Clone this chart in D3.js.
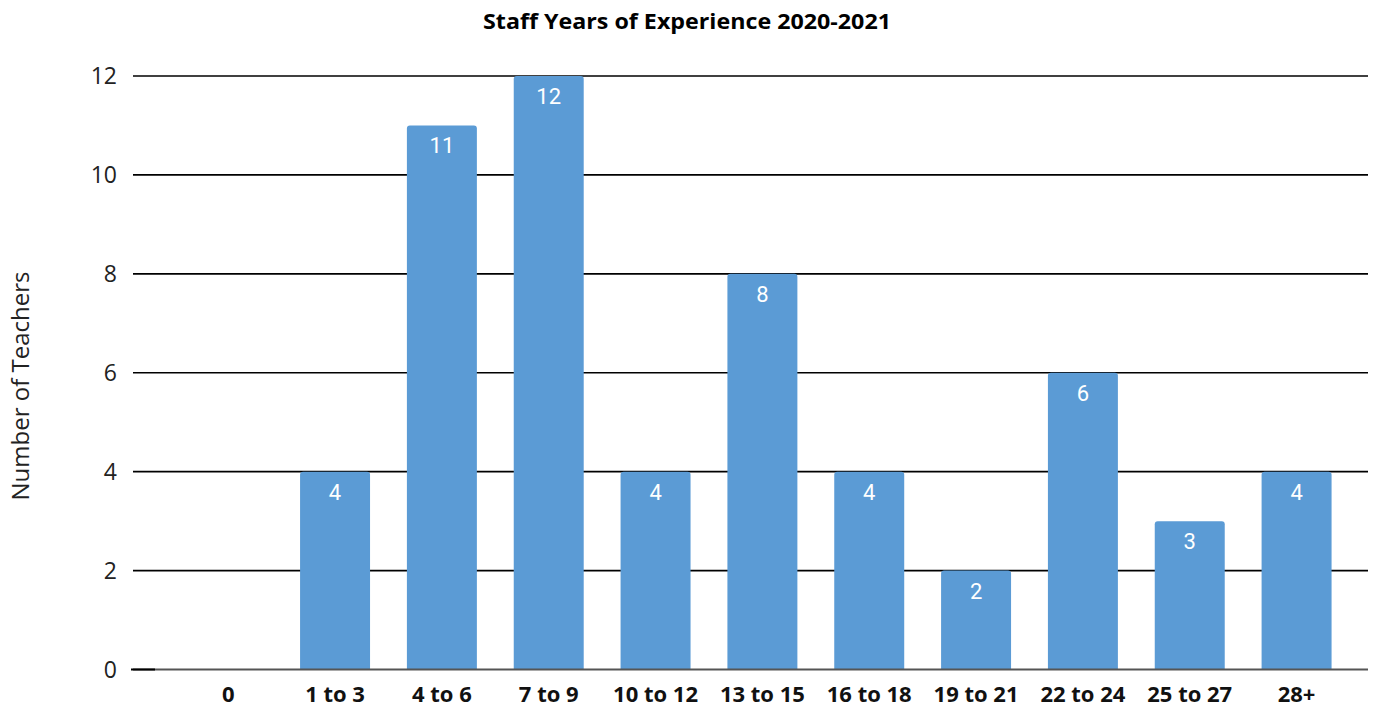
<!DOCTYPE html>
<html>
<head>
<meta charset="utf-8">
<script src="https://cdn.jsdelivr.net/npm/d3@7"></script>
<style>
body { margin: 0; background: #fff; }
svg { display: block; }
</style>
</head>
<body>
<svg id="chart" width="1373" height="709"></svg>
<script>
var categories = ["0", "1 to 3", "4 to 6", "7 to 9", "10 to 12", "13 to 15", "16 to 18", "19 to 21", "22 to 24", "25 to 27", "28+"];
var teachers = [0, 4, 11, 12, 4, 8, 4, 2, 6, 3, 4];
var yTicks = [0, 2, 4, 6, 8, 10, 12];

var svg = d3.select("#chart");
var gridLeft = 133, gridRight = 1368;

var x = d3.scaleBand()
    .domain(categories)
    .range([174.8, 1350])
    .paddingInner(0.345)
    .paddingOuter(0.1725);

var y = d3.scaleLinear()
    .domain([0, 12])
    .range([669.5, 76]);

// title
svg.append("text")
    .attr("x", 687)
    .attr("y", 29)
    .attr("text-anchor", "middle")
    .attr("font-family", "Open Sans")
    .attr("font-weight", "bold")
    .attr("font-size", 21)
    .attr("textLength", 408)
    .attr("lengthAdjust", "spacingAndGlyphs")
    .text("Staff Years of Experience 2020-2021");

// y axis title
svg.append("text")
    .attr("transform", "translate(29,386) rotate(-90)")
    .attr("text-anchor", "middle")
    .attr("font-family", "Open Sans")
    .attr("font-size", 24)
    .attr("fill", "#222")
    .text("Number of Teachers");

// gridlines
svg.append("g")
    .selectAll("line")
    .data(yTicks.filter(function(d) { return d > 0; }))
    .enter().append("line")
    .attr("x1", gridLeft)
    .attr("x2", gridRight)
    .attr("y1", function(d) { return y(d); })
    .attr("y2", function(d) { return y(d); })
    .attr("stroke", "#000")
    .attr("stroke-width", 1.6);

// y tick labels
svg.append("g")
    .selectAll("text")
    .data(yTicks)
    .enter().append("text")
    .attr("x", 117)
    .attr("y", function(d) { return y(d); })
    .attr("dy", "0.36em")
    .attr("text-anchor", "end")
    .attr("font-family", "Open Sans")
    .attr("font-size", 23)
    .attr("fill", "#222")
    .text(function(d) { return d; });

// bars with rounded tops
function barPath(d) {
    var x0 = x(d.cat), w = x.bandwidth(), y0 = y(d.value), y1 = y(0), r = 3;
    if (d.value <= 0) return "";
    return "M" + x0 + "," + y1 +
        "V" + (y0 + r) +
        "Q" + x0 + "," + y0 + " " + (x0 + r) + "," + y0 +
        "H" + (x0 + w - r) +
        "Q" + (x0 + w) + "," + y0 + " " + (x0 + w) + "," + (y0 + r) +
        "V" + y1 + "Z";
}

var data = categories.map(function(c, i) { return {cat: c, value: teachers[i]}; });

svg.append("g")
    .selectAll("path")
    .data(data)
    .enter().append("path")
    .attr("d", barPath)
    .attr("fill", "#5b9bd5");

// baseline
svg.append("line")
    .attr("x1", gridLeft)
    .attr("x2", gridRight)
    .attr("y1", y(0))
    .attr("y2", y(0))
    .attr("stroke", "#555")
    .attr("stroke-width", 2);
svg.append("line")
    .attr("x1", 131)
    .attr("x2", 155)
    .attr("y1", y(0))
    .attr("y2", y(0))
    .attr("stroke", "#000")
    .attr("stroke-width", 2);

// value labels
svg.append("g")
    .selectAll("text")
    .data(data.filter(function(d) { return d.value > 0; }))
    .enter().append("text")
    .attr("x", function(d) { return x(d.cat) + x.bandwidth() / 2; })
    .attr("y", function(d) { return y(d.value) + 28; })
    .attr("text-anchor", "middle")
    .attr("font-family", "Roboto")
    .attr("font-size", 22)
    .attr("fill", "#fff")
    .text(function(d) { return d.value; });

// category labels
svg.append("g")
    .selectAll("text")
    .data(categories)
    .enter().append("text")
    .attr("x", function(d) { return x(d) + x.bandwidth() / 2; })
    .attr("y", 702)
    .attr("text-anchor", "middle")
    .attr("font-family", "Open Sans")
    .attr("font-weight", "bold")
    .attr("font-size", 22)
    .attr("fill", "#111")
    .text(function(d) { return d; });
</script>
</body>
</html>
